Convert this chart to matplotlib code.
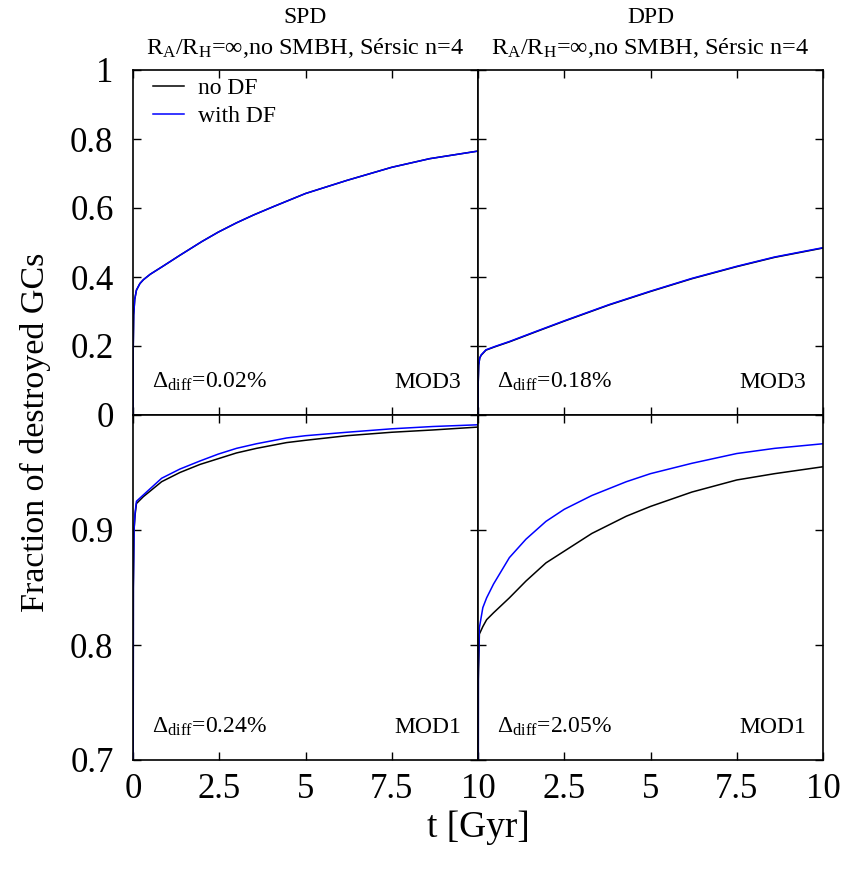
import matplotlib
matplotlib.use("Agg")
import matplotlib.pyplot as plt

plt.rcParams['font.family'] = ['Liberation Serif', 'DejaVu Serif']
plt.rcParams['mathtext.fontset'] = 'custom'
plt.rcParams['mathtext.rm'] = 'Liberation Serif'
plt.rcParams['mathtext.it'] = 'Liberation Serif:italic'

# SPD, MOD3
t_spd3 = [0, 0.005, 0.02, 0.05, 0.1, 0.2, 0.3, 0.5, 0.88, 1.36, 2.0, 2.47, 3.0, 3.5, 4.07, 5.0, 6.2, 7.5, 8.6, 10.0]
spd3_df = [0, 0.18, 0.29, 0.335, 0.362, 0.381, 0.392, 0.408, 0.432, 0.463, 0.503, 0.530, 0.557, 0.580, 0.604, 0.642, 0.680, 0.718, 0.743, 0.765]
spd3_nodf = [0, 0.18, 0.29, 0.335, 0.362, 0.381, 0.392, 0.408, 0.432, 0.463, 0.503, 0.530, 0.557, 0.580, 0.604, 0.642, 0.680, 0.718, 0.743, 0.765]

# DPD, MOD3
t_dpd3 = [0, 0.005, 0.02, 0.05, 0.09, 0.23, 0.5, 0.91, 1.7, 2.5, 3.8, 5.0, 6.2, 7.5, 8.6, 10.0]
dpd3_df = [0, 0.09, 0.145, 0.165, 0.174, 0.189, 0.199, 0.213, 0.243, 0.273, 0.320, 0.359, 0.396, 0.431, 0.458, 0.485]
dpd3_nodf = [0, 0.09, 0.145, 0.165, 0.173, 0.188, 0.198, 0.212, 0.242, 0.272, 0.319, 0.358, 0.395, 0.430, 0.457, 0.484]

# SPD, MOD1
t_spd1 = [0, 0.003, 0.01, 0.03, 0.06, 0.1, 0.3, 0.83, 1.36, 1.94, 2.47, 3.0, 3.58, 4.45, 5.0, 6.2, 7.5, 8.7, 10.0]
spd1_df = [0, 0.6, 0.85, 0.9, 0.915, 0.925, 0.9305, 0.945, 0.953, 0.960, 0.966, 0.971, 0.975, 0.980, 0.982, 0.985, 0.988, 0.990, 0.9915]
spd1_nodf = [0, 0.6, 0.85, 0.9, 0.913, 0.923, 0.929, 0.942, 0.950, 0.957, 0.962, 0.967, 0.971, 0.976, 0.978, 0.982, 0.985, 0.987, 0.9895]

# DPD, MOD1
t_dpd1 = [0, 0.003, 0.01, 0.04, 0.14, 0.25, 0.45, 0.91, 1.39, 1.97, 2.5, 3.3, 4.3, 5.0, 6.2, 7.5, 8.6, 10.0]
dpd1_df = [0, 0.5, 0.78, 0.815, 0.8325, 0.841, 0.853, 0.876, 0.892, 0.9075, 0.918, 0.930, 0.942, 0.949, 0.958, 0.9665, 0.971, 0.975]
dpd1_nodf = [0, 0.5, 0.77, 0.8095, 0.816, 0.822, 0.828, 0.841, 0.8556, 0.8714, 0.8816, 0.897, 0.912, 0.9205, 0.933, 0.9435, 0.949, 0.955]

titles = ['SPD', 'DPD']
subtitle = r'R$_{\rm A}$/R$_{\rm H}$=∞,no SMBH, Sérsic n=4'
diffs = [['0.02%', '0.18%'], ['0.24%', '2.05%']]
models = ['MOD3', 'MOD1']

panels = [[(t_spd3, spd3_nodf, spd3_df), (t_dpd3, dpd3_nodf, dpd3_df)],
          [(t_spd1, spd1_nodf, spd1_df), (t_dpd1, dpd1_nodf, dpd1_df)]]

fig = plt.figure(figsize=(8.44, 8.75), dpi=100)
gs = fig.add_gridspec(2, 2, left=133/844, right=823/844, top=1-70/875, bottom=1-760/875,
                      hspace=0, wspace=0)

for r in range(2):
    for c in range(2):
        ax = fig.add_subplot(gs[r, c])
        t, nodf, df = panels[r][c]
        ax.plot(t, nodf, color='black', lw=1.1, label='no DF')
        ax.plot(t, df, color='#0000ff', lw=1.1, label='with DF')
        ax.set_xlim(0, 10)
        ax.set_xticks([0, 2.5, 5, 7.5, 10])
        if r == 0:
            ax.set_ylim(0, 1)
            ax.set_yticks([0, 0.2, 0.4, 0.6, 0.8, 1.0])
            ax.set_yticklabels(['0', '0.2', '0.4', '0.6', '0.8', '1'])
        else:
            ax.set_ylim(0.7, 1.0)
            ax.set_yticks([0.7, 0.8, 0.9, 1.0])
            ax.set_yticklabels(['0.7', '0.8', '0.9', ''])
        ax.tick_params(direction='in', top=True, right=True, length=6, width=1,
                       labelsize=25)
        ax.tick_params(axis='y', pad=14)
        ax.tick_params(axis='x', pad=9)
        if r == 0:
            ax.set_xticklabels([])
        elif c == 1:
            ax.set_xticklabels(['', '2.5', '5', '7.5', '10'])
        else:
            ax.set_xticklabels(['0', '2.5', '5', '7.5', '10'])
        if c == 1:
            ax.set_yticklabels([])
        for s in ax.spines.values():
            s.set_linewidth(1.2)

        ax.text(0.055, 0.095, 'Δ$_{\\rm diff}$=' + diffs[r][c], transform=ax.transAxes,
                fontsize=17, ha='left', va='center')
        ax.text(0.95, 0.095, models[r], transform=ax.transAxes,
                fontsize=17, ha='right', va='center')

        if r == 0:
            ax.text(0.5, 1.0 + 52/343, titles[c], transform=ax.transAxes,
                    fontsize=17, ha='center', va='center')
            ax.text(0.5, 1.0 + 22/343, subtitle, transform=ax.transAxes,
                    fontsize=17.5, ha='center', va='center')
        if r == 0 and c == 0:
            ax.legend(loc='upper left', bbox_to_anchor=(0.01, 1.025), frameon=False,
                      fontsize=17, handlelength=1.3, handletextpad=0.6,
                      labelspacing=0.25, borderaxespad=0.3)

fig.text(478/844, 1-828/875, 't [Gyr]', fontsize=27, ha='center', va='center')
fig.text(35/844, 1-432/875, 'Fraction of destroyed GCs', fontsize=24.5, ha='center',
         va='center', rotation=90)

plt.savefig('out.png', dpi=100)
